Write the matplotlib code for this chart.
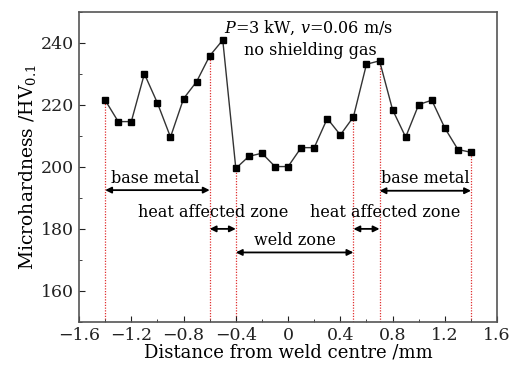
import matplotlib
matplotlib.use("Agg")
import matplotlib.pyplot as plt
from matplotlib.ticker import MultipleLocator

plt.rcParams['font.family'] = ['DejaVu Serif']
plt.rcParams['mathtext.fontset'] = 'dejavuserif'

distance = [-1.4, -1.3, -1.2, -1.1, -1.0, -0.9, -0.8, -0.7, -0.6, -0.5,
            -0.4, -0.3, -0.2, -0.1, 0.0, 0.1, 0.2, 0.3, 0.4, 0.5,
            0.6, 0.7, 0.8, 0.9, 1.0, 1.1, 1.2, 1.3, 1.4]
hardness = [221.5, 214.6, 214.6, 230.0, 220.6, 209.6, 222.0, 227.5, 235.8, 240.9,
            199.5, 203.4, 204.4, 200.1, 200.1, 206.2, 206.2, 215.6, 210.3, 216.1,
            233.1, 234.2, 218.4, 209.6, 220.1, 221.5, 212.5, 205.6, 204.7]
boundary_idx = [0, 8, 10, 19, 21, 28]

zones = [("base metal", -1.4, -0.6, 192.5, -1.02, 196.3),
         ("heat affected zone", -0.6, -0.4, 180.0, -0.57, 185.2),
         ("weld zone", -0.4, 0.5, 172.4, 0.05, 176.3),
         ("heat affected zone", 0.5, 0.7, 180.0, 0.74, 185.2),
         ("base metal", 0.7, 1.4, 192.3, 1.05, 196.3)]

fig = plt.figure(figsize=(5.2, 3.7), dpi=100)
ax = fig.add_axes([0.152, 0.130, 0.804, 0.838])

ymin = 150
for i in boundary_idx:
    ax.plot([distance[i], distance[i]], [ymin, hardness[i]], color='#e03030',
            linestyle=(0, (1, 1.2)), linewidth=0.9, zorder=1)

ax.plot(distance, hardness, color='#333333', linewidth=1.0, marker='s',
        markersize=5, markerfacecolor='black', markeredgecolor='black', zorder=3)

for label, x0, x1, ya, xt, yt in zones:
    ax.annotate('', xy=(x0, ya), xytext=(x1, ya),
                arrowprops=dict(arrowstyle='<|-|>', color='black', lw=1.3,
                                mutation_scale=9, shrinkA=0, shrinkB=0))
    ax.text(xt, yt, label, ha='center', va='center', fontsize=11.5)

ax.text(0.16, 244.8, r'$P$=3 kW, $v$=0.06 m/s', ha='center', va='center', fontsize=11.5)
ax.text(0.17, 237.4, 'no shielding gas', ha='center', va='center', fontsize=11.5)

ax.set_xlim(-1.6, 1.6)
ax.set_ylim(150, 250)
ax.xaxis.set_minor_locator(MultipleLocator(0.2))
ax.yaxis.set_minor_locator(MultipleLocator(10))
ax.set_yticks([160, 180, 200, 220, 240])
ax.set_xticks([-1.6, -1.2, -0.8, -0.4, 0, 0.4, 0.8, 1.2, 1.6])
ax.set_xticklabels(['\u22121.6', '\u22121.2', '\u22120.8', '\u22120.4', '0', '0.4', '0.8', '1.2', '1.6'])
ax.tick_params(which='both', direction='in', top=False, right=False, labelsize=12.5, colors='#222222')
ax.tick_params(which='major', length=4)
ax.tick_params(which='minor', length=2)
for s in ax.spines.values():
    s.set_color('#555555')
    s.set_linewidth(1.2)

ax.set_xlabel('Distance from weld centre /mm', fontsize=13, labelpad=0)
ax.set_ylabel('Microhardness /HV$_{0.1}$', fontsize=13.5, labelpad=2)

fig.savefig('out.png', dpi=100)
